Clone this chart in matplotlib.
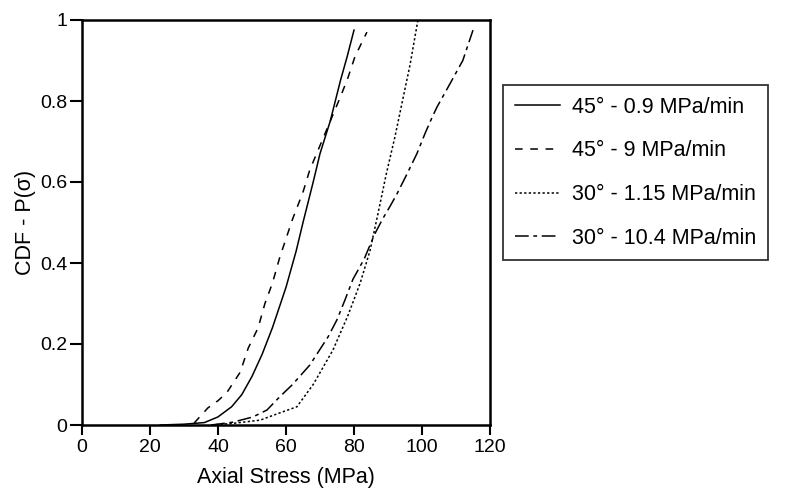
# CDF of axial stress for four loading conditions
import matplotlib
matplotlib.use("Agg")
import matplotlib.pyplot as plt

plt.rcParams["font.family"] = ["Liberation Sans", "DejaVu Sans"]

# ------- DATA -------
x_45_slow = [23, 30, 36, 40, 44, 47, 50, 53, 56, 58, 60, 63, 65, 68, 70, 73, 76, 78, 80]
y_45_slow = [0.0, 0.002, 0.006, 0.02, 0.045, 0.075, 0.12, 0.175, 0.24, 0.29, 0.34, 0.43, 0.50, 0.60, 0.67, 0.75, 0.85, 0.91, 0.975]

x_45_fast = [33, 37, 40, 42.6, 46.5, 48.9, 51.8, 53.8, 56, 58.2, 60, 62, 65, 67, 70, 73, 76, 78.2, 80.3, 83.8]
y_45_fast = [0.005, 0.042, 0.06, 0.08, 0.13, 0.19, 0.24, 0.30, 0.35, 0.415, 0.46, 0.51, 0.575, 0.63, 0.69, 0.75, 0.81, 0.857, 0.91, 0.97]

x_30_slow = [38, 44.4, 52.4, 58.2, 63.2, 68, 73.8, 78.2, 81.8, 84.7, 87, 89.5, 92, 94.5, 96.5, 98.8]
y_30_slow = [0.0, 0.004, 0.012, 0.03, 0.045, 0.10, 0.185, 0.27, 0.35, 0.43, 0.52, 0.62, 0.71, 0.81, 0.89, 1.0]

x_30_fast = [38, 44.4, 50.3, 54.4, 58.2, 61.8, 67, 72.4, 75, 77.4, 79.7, 83, 86, 88.5, 90.6, 92.6, 95.6, 98.5, 100.9, 103, 104.4, 107.4, 112, 115]
y_30_fast = [0.0, 0.007, 0.02, 0.037, 0.07, 0.099, 0.148, 0.218, 0.26, 0.31, 0.36, 0.41, 0.47, 0.51, 0.54, 0.57, 0.62, 0.67, 0.72, 0.76, 0.785, 0.83, 0.90, 0.975]

labels = ["45° - 0.9 MPa/min", "45° - 9 MPa/min", "30° - 1.15 MPa/min", "30° - 10.4 MPa/min"]

x_ticks = [0, 20, 40, 60, 80, 100, 120]
y_ticks = [0, 0.2, 0.4, 0.6, 0.8, 1]
y_ticklabels = ["0", "0.2", "0.4", "0.6", "0.8", "1"]

# ------- PLOT -------
fig = plt.figure(figsize=(7.89, 4.91), dpi=100)
ax = fig.add_axes([82/789, 1 - 425/491, (490 - 82)/789, (425 - 20)/491])

ax.plot(x_45_slow, y_45_slow, color="black", lw=1.1, linestyle="-", label=labels[0])
ax.plot(x_45_fast, y_45_fast, color="black", lw=1.1, linestyle=(0, (5, 5)), label=labels[1])
ax.plot(x_30_slow, y_30_slow, color="black", lw=1.1, linestyle=(0, (1.5, 1.5)), label=labels[2])
ax.plot(x_30_fast, y_30_fast, color="black", lw=1.1, linestyle=(0, (9, 3, 2.5, 3)), label=labels[3])

ax.set_xlim(0, 120)
ax.set_ylim(0, 1)
ax.set_xticks(x_ticks)
ax.set_yticks(y_ticks)
ax.set_yticklabels(y_ticklabels)
ax.tick_params(direction="out", width=1.5, labelsize=14)
ax.tick_params(axis="y", length=8.5, pad=2)
ax.tick_params(axis="x", length=7, pad=3)
for s in ax.spines.values():
    s.set_linewidth(1.8)

ax.set_xlabel("Axial Stress (MPa)", fontsize=15.5, labelpad=8)
ax.set_ylabel("CDF - P(σ)", fontsize=15.5, labelpad=3)

leg = fig.legend(loc="upper left", bbox_to_anchor=(503/789, 1 - 85/491),
                 fontsize=15.5, frameon=True, fancybox=False, edgecolor="black",
                 handlelength=2.1, handletextpad=0.55, labelspacing=1.05,
                 borderpad=0.55, borderaxespad=0)
leg.get_frame().set_linewidth(1.3)

fig.savefig("out.png", dpi=100)
